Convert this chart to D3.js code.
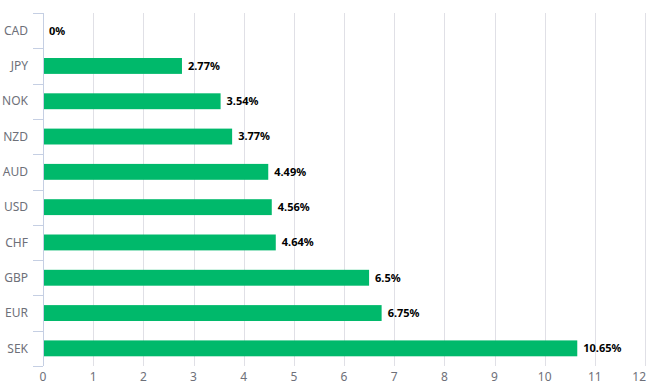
<!DOCTYPE html>
<html>
<head>
<meta charset="utf-8">
<script src="https://cdn.jsdelivr.net/npm/d3@7"></script>
<style>
body{margin:0;background:#fff;}
svg{display:block;font-family:"Noto Sans","Open Sans",sans-serif;}
</style>
</head>
<body>
<div id="chart"><svg class="diagram"></svg></div>
<script>
var currencies = ["CAD","JPY","NOK","NZD","AUD","USD","CHF","GBP","EUR","SEK"];
var changes = [0,2.77,3.54,3.77,4.49,4.56,4.64,6.5,6.75,10.65];
var xTicks = [0,1,2,3,4,5,6,7,8,9,10,11,12];

var width = 648, height = 388;
var margin = {top: 13, right: 3, bottom: 22, left: 43};

var svg = d3.select("#chart svg").attr("width", width).attr("height", height);

var x = d3.scaleLinear().domain([0, 12]).range([margin.left, width - margin.right]);
var y = d3.scaleBand().domain(currencies).range([margin.top, height - margin.bottom]).paddingInner(0.55).paddingOuter(0.275);

// grid lines
svg.append("g").selectAll("line")
  .data(xTicks.slice(1))
  .join("line")
  .attr("x1", function(d){ return Math.round(x(d)) + 0.5; })
  .attr("x2", function(d){ return Math.round(x(d)) + 0.5; })
  .attr("y1", margin.top)
  .attr("y2", height - margin.bottom)
  .attr("stroke", "#e0e0e6")
  .attr("stroke-width", 1);

// y axis line + ticks at band boundaries
var bounds = d3.range(currencies.length + 1).map(function(i){
  return margin.top + i * y.step();
});
svg.append("line")
  .attr("x1", margin.left + 0.5).attr("x2", margin.left + 0.5)
  .attr("y1", margin.top).attr("y2", height - margin.bottom)
  .attr("stroke", "#c5cfe3");
svg.append("g").selectAll("line")
  .data(bounds)
  .join("line")
  .attr("x1", margin.left - 10).attr("x2", margin.left)
  .attr("y1", function(d){ return Math.round(d) + 0.5; })
  .attr("y2", function(d){ return Math.round(d) + 0.5; })
  .attr("stroke", "#c5cfe3");

// category labels
svg.append("g").selectAll("text")
  .data(currencies)
  .join("text")
  .attr("x", margin.left - 15)
  .attr("y", function(d){ return y(d) + y.bandwidth() / 2; })
  .attr("dy", "0.35em")
  .attr("text-anchor", "end")
  .attr("fill", "#6e7079")
  .style("font-size", "12px")
  .text(function(d){ return d; });

// x tick labels
svg.append("g").selectAll("text")
  .data(xTicks)
  .join("text")
  .attr("x", function(d){ return d === 12 ? width - 2 : x(d); })
  .attr("y", height - 7)
  .attr("text-anchor", function(d){ return d === 12 ? "end" : "middle"; })
  .attr("fill", "#6e7079")
  .style("font-size", "12px")
  .text(function(d){ return d; });

// bars
svg.append("g").selectAll("rect")
  .data(currencies)
  .join("rect")
  .attr("x", x(0) + 1)
  .attr("y", function(d){ return y(d); })
  .attr("width", function(d, i){ return Math.max(0, x(changes[i]) - x(0) - 1); })
  .attr("height", y.bandwidth())
  .attr("fill", "#00b96b");

// value labels
svg.append("g").selectAll("text")
  .data(currencies)
  .join("text")
  .attr("x", function(d, i){ return x(changes[i]) + 6; })
  .attr("y", function(d){ return y(d) + y.bandwidth() / 2; })
  .attr("dy", "0.35em")
  .attr("fill", "#000")
  .style("font-size", "11px")
  .style("font-weight", "bold")
  .text(function(d, i){ return changes[i] + "%"; });
</script>
</body>
</html>
